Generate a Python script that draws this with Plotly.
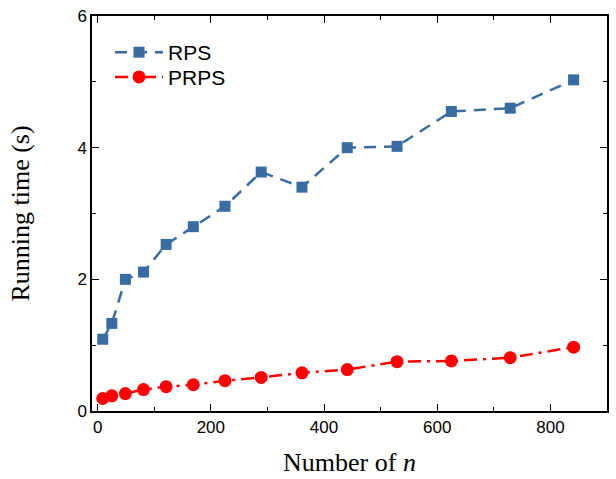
import plotly.graph_objects as go

n_values = [9, 25, 49, 81, 121, 169, 225, 289, 361, 441, 529, 625, 729, 841]
rps_time = [1.09, 1.33, 2.00, 2.11, 2.53, 2.80, 3.11, 3.63, 3.40, 4.00, 4.02, 4.55, 4.60, 5.03]
prps_time = [0.19, 0.23, 0.265, 0.325, 0.37, 0.40, 0.46, 0.51, 0.58, 0.63, 0.75, 0.76, 0.81, 0.97]
x_ticks = [0, 200, 400, 600, 800]
y_ticks = [0, 2, 4, 6]

fig = go.Figure()
fig.add_trace(go.Scatter(
    x=n_values, y=rps_time, name="RPS", mode="lines+markers", legend="legend",
    line=dict(color="#386CA3", width=2.5, dash="12px,8px"),
    marker=dict(symbol="square", size=11, color="#386CA3"),
))
fig.add_trace(go.Scatter(
    x=n_values, y=prps_time, name="PRPS", mode="lines+markers", legend="legend2",
    line=dict(color="#FF0000", width=2.5, dash="13px,6px,3px,6px"),
    marker=dict(symbol="circle", size=13, color="#FF0000"),
))

axis_common = dict(
    showline=True, linecolor="black", linewidth=1.5, mirror="ticks",
    ticks="inside", ticklen=7, tickwidth=1.2, tickcolor="black",
    showgrid=False, zeroline=False,
    tickfont=dict(family="Liberation Sans, Arial", size=17, color="black"),
)

legend_common = dict(
    xanchor="left", yanchor="middle", bgcolor="rgba(0,0,0,0)",
    font=dict(family="Liberation Sans, Arial", size=21, color="black"),
    itemwidth=48,
)

fig.update_layout(
    width=616, height=479,
    margin=dict(l=92, r=7, t=12, b=67),
    plot_bgcolor="white", paper_bgcolor="white",
    showlegend=True,
    legend=dict(x=0.035, y=0.9075, **legend_common),
    legend2=dict(x=0.035, y=0.845, **legend_common),
    xaxis=dict(range=[-10, 900], tickvals=x_ticks,
               minor=dict(dtick=100, tick0=0, ticks="inside", ticklen=4, tickcolor="black"),
               title=dict(text="Number of <i>n</i>", standoff=17,
                          font=dict(family="Liberation Serif, Times New Roman", size=26, color="black")),
               **axis_common),
    yaxis=dict(range=[0, 6], tickvals=y_ticks,
               minor=dict(dtick=1, tick0=0, ticks="inside", ticklen=4, tickcolor="black"),
               title=dict(text="Running time (s)", standoff=40,
                          font=dict(family="Liberation Serif, Times New Roman", size=26, color="black")),
               **axis_common),
)

fig.write_html("out.html")
